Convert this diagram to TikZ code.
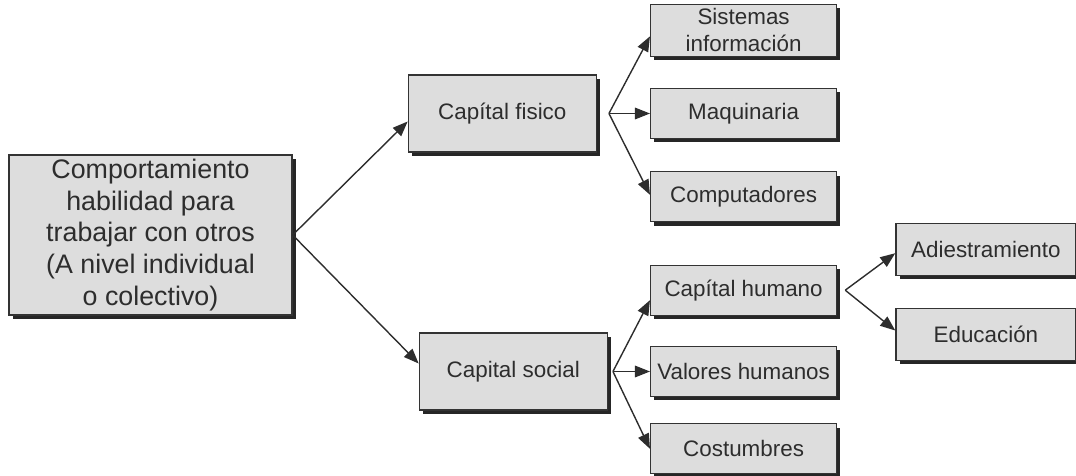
\documentclass[tikz,border=0pt]{standalone}
\usepackage{fontspec}
\setmainfont{Liberation Sans}
\usetikzlibrary{positioning, shadows, arrows.meta}
\definecolor{boxfill}{RGB}{221,221,221}
\definecolor{inkgray}{RGB}{45,45,45}
\tikzset{
every node/.style={text=inkgray},
box/.style={ % Sets the properties for each box
draw=black!80, line width=0.65pt, fill=boxfill,
drop shadow={shadow xshift=1.9pt, shadow yshift=-1.9pt, fill=black!85, opacity=1},
minimum width=94pt, minimum height=38.5pt, inner sep=2pt,
font=\fontsize{11.2}{13.6}\selectfont, align=center},
leaf/.style={box, minimum width=93pt, minimum height=25pt},
link/.style={ % Sets the properties for each connector
draw=inkgray, line width=0.7pt, -{Triangle[length=7.5pt,width=5.8pt]}}}

\begin{document}
\begin{tikzpicture}

    \useasboundingbox (0,0) rectangle (538pt,-238pt);

    \node[box, minimum width=141.5pt, minimum height=80pt,
          font=\fontsize{13.4}{15.9}\selectfont] (main) at (75.25pt,-117.5pt)
          {Comportamiento\\habilidad para\\trabajar con otros\\(A nivel individual\\o colectivo)};

    \node[box, right=57.5pt of main, yshift=60.75pt] (fisico) {Capítal fisico};
    \node[box, right=63pt of main, yshift=-68.25pt] (social) {Capital social};

    \node[leaf, right=26.5pt of fisico] (maquinaria) {Maquinaria};
    \node[leaf, above=15.5pt of maquinaria] (sistemas) {Sistemas\\información};
    \node[leaf, below=16pt of maquinaria] (computadores) {Computadores};

    \node[leaf, right=21pt of social] (valores) {Valores humanos};
    \node[leaf, above=15pt of valores] (humano) {Capítal humano};
    \node[leaf, below=13pt of valores] (costumbres) {Costumbres};

    \node[leaf, minimum width=90pt, minimum height=26pt, right=29pt of humano, yshift=20.5pt] (adiestramiento) {Adiestramiento};
    \node[leaf, minimum width=90pt, minimum height=26pt, below=16pt of adiestramiento] (educacion) {Educación};

    % branch points
    \coordinate (fj) at ([xshift=6pt]fisico.east);
    \coordinate (sj) at ([xshift=2.5pt]social.east);
    \coordinate (hj) at ([xshift=4pt]humano.east);

    \draw[link] (main.east) -- ([yshift=-4pt]fisico.west);
    \draw[link] (main.east) -- ([yshift=4pt]social.west);

    \draw[link] (fj) -- ([yshift=-3pt]sistemas.west);
    \draw[link] (fj) -- (maquinaria.west);
    \draw[link] (fj) -- ([yshift=1pt]computadores.west);

    \draw[link] (sj) -- ([yshift=-5pt]humano.west);
    \draw[link] (sj) -- (valores.west);
    \draw[link] (sj) -- (costumbres.west);

    \draw[link] (hj) -- ([yshift=-2pt]adiestramiento.west);
    \draw[link] (hj) -- ([yshift=2pt]educacion.west);

\end{tikzpicture}
\end{document}
